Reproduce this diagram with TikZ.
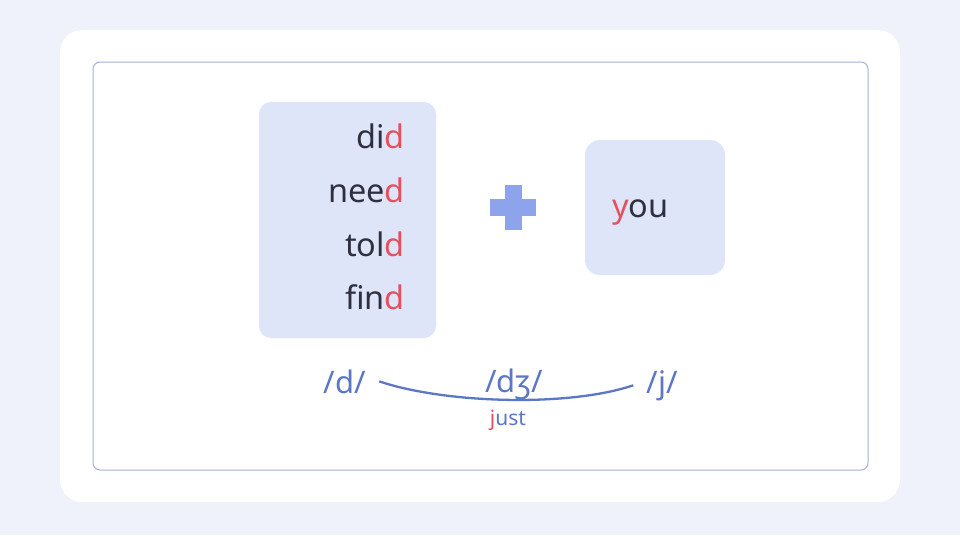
\documentclass[tikz,border=0pt]{standalone}
\usepackage{fontspec}
\setmainfont{Noto Sans}
\usetikzlibrary{positioning}

\definecolor{pagebg}{HTML}{EFF2FA}
\definecolor{framec}{HTML}{A3B1D6}
\definecolor{boxfill}{HTML}{DFE5F8}
\definecolor{plusc}{HTML}{8DA4EC}
\definecolor{inkc}{HTML}{2E3040}
\definecolor{endc}{HTML}{E5505E}
\definecolor{soundc}{HTML}{5B77C6}

\begin{document}
\begin{tikzpicture}[x=1pt, y=-1pt,
  wordbox/.style = {fill = boxfill, shape = rectangle, rounded corners = 12pt},
  word/.style = {anchor = base east, inner sep = 0pt, text = inkc, font = \fontsize{32.5}{32.5}\selectfont},
  sound/.style = {anchor = base, inner sep = 13pt, text = soundc, font = \fontsize{31}{31}\selectfont},
  link/.style = {draw = soundc, line width = 2.3pt}]
\useasboundingbox (0,0) rectangle (960,535);
\fill[pagebg] (0,0) rectangle (960,535);
\fill[white, rounded corners = 22pt] (60,30) rectangle (900,502);
\draw[framec, line width = 1pt, rounded corners = 7pt] (93,62) rectangle (868,470);

% word endings in d
\node[wordbox, minimum width = 177, minimum height = 236] (ends) at (347.5,220) {};
\node[word] (did)  at (405,148) {di\textcolor{endc}{d}};
\node[word] (need) at (405,202) {nee\textcolor{endc}{d}};
\node[word] (told) at (405,256) {tol\textcolor{endc}{d}};
\node[word] (find) at (405,309) {fin\textcolor{endc}{d}};

% plus sign
\fill[plusc] (490,199) rectangle (536,216);
\fill[plusc] (504.5,185) rectangle (521.5,230);

% the word you
\node[wordbox, rounded corners = 15pt, minimum width = 140, minimum height = 135] (start) at (655,207.5) {};
\node[word, anchor = base west] (you) at (612,217) {\textcolor{endc}{y}ou};

% d + j gives dzh
\node[sound] (dsound) at (345,393) {/d/};
\node[sound] (jsound) at (662,393) {/j/};
\node[sound] (dzh) at (514,392) {/dʒ/};
\draw[link] (dsound.east) .. controls +(65,22) and +(-65,22) .. (jsound.west);
\node[anchor = base, inner sep = 0pt, text = soundc, font = \fontsize{21}{21}\selectfont] (just) at (508,425) {\textcolor{endc}{j}ust};
\end{tikzpicture}
\end{document}
